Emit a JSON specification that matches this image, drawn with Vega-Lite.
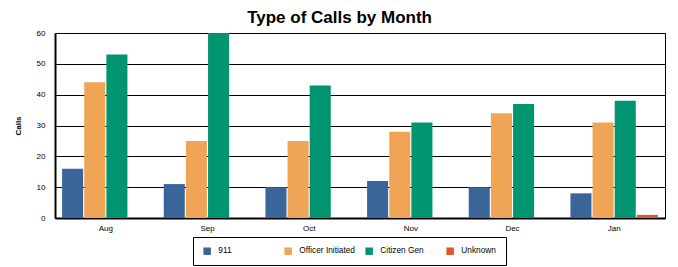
{
  "$schema": "https://vega.github.io/schema/vega-lite/v6.json",
  "width": 610,
  "height": 185,
  "autosize": "none",
  "padding": {"left": 55, "top": 33, "right": 13, "bottom": 49},
  "background": "white",
  "title": {"text": "Type of Calls by Month", "font": "Liberation Sans", "fontSize": 17, "fontWeight": "bold", "color": "black", "offset": 2, "frame": "bounds"},
  "config": {
    "font": "Liberation Sans",
    "view": {"stroke": "black", "strokeWidth": 1}
  },
  "data": {
    "values": [
      {"month": "Aug", "type": "911", "calls": 16},
      {"month": "Aug", "type": "Officer Initiated", "calls": 44},
      {"month": "Aug", "type": "Citizen Gen", "calls": 53},
      {"month": "Aug", "type": "Unknown", "calls": 0},
      {"month": "Sep", "type": "911", "calls": 11},
      {"month": "Sep", "type": "Officer Initiated", "calls": 25},
      {"month": "Sep", "type": "Citizen Gen", "calls": 60},
      {"month": "Sep", "type": "Unknown", "calls": 0},
      {"month": "Oct", "type": "911", "calls": 10},
      {"month": "Oct", "type": "Officer Initiated", "calls": 25},
      {"month": "Oct", "type": "Citizen Gen", "calls": 43},
      {"month": "Oct", "type": "Unknown", "calls": 0},
      {"month": "Nov", "type": "911", "calls": 12},
      {"month": "Nov", "type": "Officer Initiated", "calls": 28},
      {"month": "Nov", "type": "Citizen Gen", "calls": 31},
      {"month": "Nov", "type": "Unknown", "calls": 0},
      {"month": "Dec", "type": "911", "calls": 10},
      {"month": "Dec", "type": "Officer Initiated", "calls": 34},
      {"month": "Dec", "type": "Citizen Gen", "calls": 37},
      {"month": "Dec", "type": "Unknown", "calls": 0},
      {"month": "Jan", "type": "911", "calls": 8},
      {"month": "Jan", "type": "Officer Initiated", "calls": 31},
      {"month": "Jan", "type": "Citizen Gen", "calls": 38},
      {"month": "Jan", "type": "Unknown", "calls": 1}
    ]
  },
  "mark": {"type": "bar"},
  "encoding": {
    "x": {
      "field": "month", "type": "nominal",
      "sort": ["Aug", "Sep", "Oct", "Nov", "Dec", "Jan"],
      "scale": {"paddingInner": 0, "paddingOuter": 0},
      "axis": {"title": null, "labelAngle": 0, "ticks": false, "labelFontSize": 8, "labelColor": "black", "labelPadding": 6, "domainColor": "black", "domainWidth": 2}
    },
    "xOffset": {
      "field": "type", "type": "nominal",
      "sort": ["911", "Officer Initiated", "Citizen Gen", "Unknown"],
      "scale": {"paddingInner": 0.05, "paddingOuter": 0.32}
    },
    "y": {
      "field": "calls", "type": "quantitative",
      "scale": {"domain": [0, 60], "nice": false},
      "axis": {"title": "Calls", "titleFontSize": 8, "titleFontWeight": "bold", "titleColor": "black", "titlePadding": 14, "values": [0, 10, 20, 30, 40, 50, 60], "labelFontSize": 8, "labelColor": "black", "ticks": false, "labelPadding": 10, "grid": true, "gridColor": "black", "gridWidth": 1, "domainColor": "black", "domainWidth": 2}
    },
    "color": {
      "field": "type", "type": "nominal",
      "sort": ["911", "Officer Initiated", "Citizen Gen", "Unknown"],
      "scale": {"domain": ["911", "Officer Initiated", "Citizen Gen", "Unknown"], "range": ["#3a6599", "#f0a455", "#009471", "#e0562a"]},
      "legend": {
        "title": null, "orient": "none", "legendX": 138, "legendY": 204,
        "direction": "horizontal", "columns": 4, "gridAlign": "all",
        "symbolType": "square", "symbolSize": 56, "symbolStrokeWidth": 0,
        "labelFontSize": 8.3, "labelColor": "black", "labelOffset": 7, "columnPadding": 10,
        "strokeColor": "black", "padding": 10, "labelLimit": 200
      }
    }
  }
}
